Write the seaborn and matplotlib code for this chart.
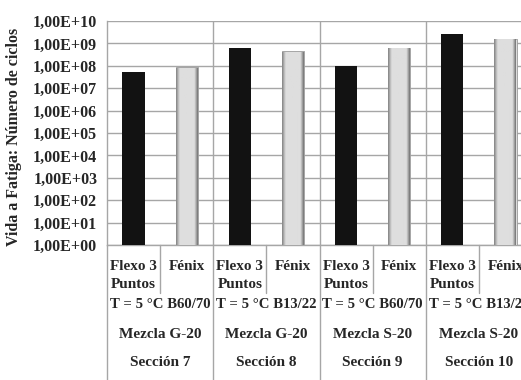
import numpy as np
import pandas as pd
import matplotlib
matplotlib.use("Agg")
import matplotlib.pyplot as plt
import matplotlib.transforms as mtransforms
from matplotlib.colors import to_rgba
from matplotlib.ticker import FixedLocator, FuncFormatter, NullLocator
import seaborn as sns

# --- data -------------------------------------------------------------
secciones = ["Sección 7", "Sección 8", "Sección 9", "Sección 10"]
mezclas = ["Mezcla G-20", "Mezcla G-20", "Mezcla S-20", "Mezcla S-20"]
condiciones = ["T = 5 °C B60/70", "T = 5 °C B13/22", "T = 5 °C B60/70", "T = 5 °C B13/22"]
metodos = ["Flexo 3\nPuntos", "Fénix"]
ciclos_flexo = [5.2e7, 6.2e8, 9.6e7, 2.6e9]
ciclos_fenix = [8.4e7, 4.4e8, 6.5e8, 1.6e9]
exponentes = list(range(0, 11))

rows = []
for i, sec in enumerate(secciones):
    for met, val in zip(metodos, [ciclos_flexo[i], ciclos_fenix[i]]):
        rows.append({"clave": f"{sec}|{met}", "metodo": met, "ciclos": val})
df = pd.DataFrame(rows)
orden = list(df["clave"])

# --- style ------------------------------------------------------------
sns.set_style("white")
plt.rcParams["font.family"] = ["Liberation Serif", "DejaVu Serif"]
plt.rcParams["font.weight"] = "bold"
FS_TICK = 11.5
FS = 11
GRID = "#a6a6a6"
COL_FLEXO = "#121212"
COL_FENIX = "#dcdcdc"

W, H = 521, 380
fig = plt.figure(figsize=(W / 100, H / 100), dpi=100)
left, right, top, bottom = 107, 532, 21, 245
ax = fig.add_axes([left / W, 1 - bottom / H, (right - left) / W, (bottom - top) / H])

sns.barplot(data=df, x="clave", y="ciclos", hue="metodo", order=orden,
            hue_order=metodos, palette={metodos[0]: COL_FLEXO, metodos[1]: COL_FENIX},
            dodge=False, width=0.42, legend=False, ax=ax, zorder=3,
            linewidth=0)

ax.set_yscale("log")

# shaded, cylinder-like fill for the Fénix bars
grad_x = np.linspace(0, 1, 64)
shade = 0.87 - 0.32 * np.clip(1 - grad_x / 0.16, 0, 1) ** 1.3 \
    - 0.52 * np.clip((grad_x - 0.80) / 0.20, 0, 1) ** 1.1
grad = np.tile(shade, (2, 1))
fenix_rgba = to_rgba(COL_FENIX)
for patch in list(ax.patches):
    if patch.get_height() <= 0:
        continue
    if not np.allclose(patch.get_facecolor(), fenix_rgba, atol=0.02):
        continue
    x0 = patch.get_x()
    x1 = x0 + patch.get_width()
    y1 = patch.get_y() + patch.get_height()
    ax.imshow(grad, extent=(x0, x1, 1, y1), aspect="auto", cmap="gray",
              vmin=0, vmax=1, zorder=3.5, interpolation="bilinear",
              origin="lower")
    patch.set_edgecolor("#9a9a9a")
    patch.set_linewidth(0.6)
ax.set_ylim(1, 1e10)
ax.set_xlim(-0.5, len(orden) - 0.5)

# axes, ticks and grid
ax.yaxis.set_major_locator(FixedLocator([10.0 ** e for e in exponentes]))
ax.yaxis.set_minor_locator(NullLocator())
ax.yaxis.set_major_formatter(FuncFormatter(
    lambda v, p: "1,00E+%02d" % int(round(np.log10(v)))))
ax.tick_params(axis="y", labelsize=FS_TICK, length=4, width=1, color=GRID, pad=3)
ax.tick_params(axis="x", length=0, labelbottom=False)
for lab in ax.get_yticklabels():
    lab.set_fontweight("bold")
ax.set_xlabel("")
ax.set_ylabel("")
ax.grid(False)
for e in exponentes:
    ax.axhline(10.0 ** e, color=GRID, lw=1, zorder=1)
n_sec = len(secciones)
for k in range(1, n_sec):
    ax.axvline(2 * k - 0.5, color=GRID, lw=1, zorder=1)
for side in ["top", "right"]:
    ax.spines[side].set_visible(False)
ax.spines["left"].set_color(GRID)
ax.spines["bottom"].set_color(GRID)
ax.spines["left"].set_linewidth(1)
ax.spines["bottom"].set_linewidth(1)

fig.text(14 / W, 1 - 137 / H, "Vida a Fatiga: Número de ciclos", rotation=90,
         ha="center", va="center", fontsize=FS_TICK, fontweight="bold")

# category table below the axis
tr = mtransforms.blended_transform_factory(ax.transData, ax.transAxes)
ph = bottom - top


def ay(px):
    return (bottom - px) / ph


for k in range(n_sec):
    xs = 2 * k - 0.5
    ax.plot([xs, xs], [0, ay(H + 2)], transform=tr, color=GRID, lw=1, clip_on=False)
    xm = 2 * k + 0.5
    ax.plot([xm, xm], [0, ay(293)], transform=tr, color=GRID, lw=1, clip_on=False)
ax.plot([2 * n_sec - 0.5] * 2, [0, ay(H + 2)], transform=tr, color=GRID, lw=1, clip_on=False)

for i, clave in enumerate(orden):
    met = clave.split("|")[1]
    ax.text(i, ay(260), met, transform=tr, ha="center", va="top", fontsize=FS,
            fontweight="bold", linespacing=1.5, clip_on=False)

for k in range(n_sec):
    xc = 2 * k + 0.5
    ax.text(xc, ay(305), condiciones[k], transform=tr, ha="center", va="center",
            fontsize=10.6, fontweight="bold", clip_on=False)
    ax.text(xc, ay(334), mezclas[k], transform=tr, ha="center", va="center",
            fontsize=FS, fontweight="bold", clip_on=False)
    ax.text(xc, ay(362), secciones[k], transform=tr, ha="center", va="center",
            fontsize=FS, fontweight="bold", clip_on=False)

fig.savefig("out.png", dpi=100)
